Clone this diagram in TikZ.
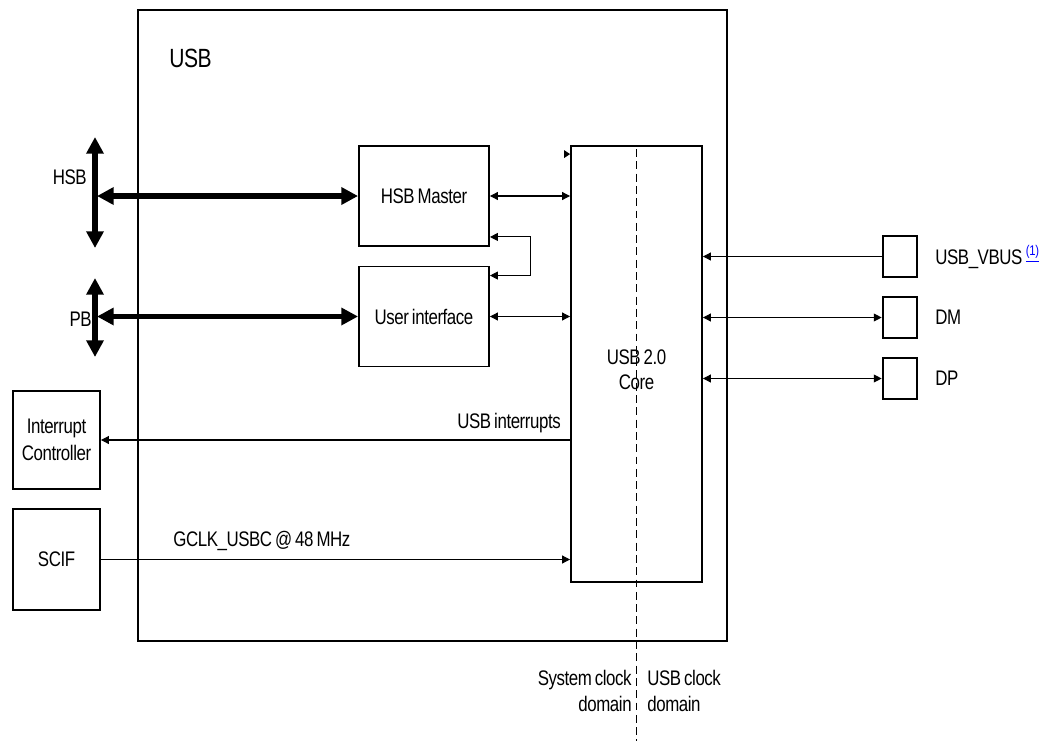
\documentclass[tikz,border=0pt]{standalone}
\usepackage{fontspec}
\setmainfont[FakeStretch=0.8,LetterSpace=-2,WordSpace=0.7]{Liberation Sans}
\usepackage{xcolor}
\usepackage{tikz}
\usetikzlibrary{arrows.meta,calc,positioning}

\begin{document}
\begin{tikzpicture}[x=0.02cm,y=-0.02cm,
  blk/.style={draw,line width=1.1pt,inner sep=0pt,align=center},
  pin/.style={draw,line width=1.5pt,inner sep=0pt,minimum width=0.68cm,minimum height=0.82cm},
  sig/.style={line width=0.6pt,-{Triangle[length=4.5pt,width=4.5pt]}},
  bsig/.style={line width=0.6pt,{Triangle[length=4.5pt,width=4.5pt]}-{Triangle[length=4.5pt,width=4.5pt]}},
  bus/.style={line width=3.4pt,{Triangle[length=9.5pt,width=9.5pt]}-{Triangle[length=9.5pt,width=9.5pt]}},
  lbl/.style={inner sep=0pt,align=center}]
\useasboundingbox (0,0) rectangle (1063,741);
\fontsize{12}{15}\selectfont

\node[blk,minimum width=11.78cm,minimum height=12.62cm] (usb) at (432.5,325.5) {};
\node[lbl,anchor=west,font=\fontsize{15}{18}\selectfont] (usbtitle) at (169,58) {USB};

\node[blk,minimum width=2.6cm,minimum height=2.0cm] (hsbm) at (424,196) {HSB Master};
\node[blk,minimum width=2.6cm,minimum height=2.0cm] (ui) at (424,316.5) {User interface};
\node[blk,minimum width=2.62cm,minimum height=8.72cm,
  text height=0pt] (core) at (636.5,364) {};
\node[lbl,baseline=0pt] (coretxt) at (636.5,370) {USB 2.0\\[-1pt]Core};

\node[blk,minimum width=1.74cm,minimum height=1.96cm] (intc) at (56.5,440) {Interrupt\\Controller};
\node[blk,minimum width=1.74cm,minimum height=2.02cm] (scif) at (56.5,559.5) {SCIF};

\node[pin] (vbus) at (900,256.5) {};
\node[pin] (dm) at (900,317.5) {};
\node[pin] (dp) at (900,378.5) {};
\node[lbl,anchor=west] (vbuslbl) at (935,257) {USB\_VBUS\,\textsuperscript{\color{blue}\underline{(1)}}};
\node[lbl,anchor=west] (dmlbl) at (935,317) {DM};
\node[lbl,anchor=west] (dplbl) at (935,378) {DP};

% system bus and peripheral bus
\coordinate (hsbtop) at (95,137);
\coordinate (hsbbot) at (95,248);
\coordinate (pbtop) at (95,278);
\coordinate (pbbot) at (95,357);
\draw[bus] (hsbtop) -- (hsbbot);
\draw[bus] (pbtop) -- (pbbot);
\draw[bus] ($(hsbtop |- hsbm.west)+(2,0)$) -- (hsbm.west);
\draw[bus] ($(pbtop |- ui.west)+(2,0)$) -- (ui.west);
\node[lbl,anchor=east] (hsblbl) at (87,177) {HSB};
\node[lbl,anchor=east] (pblbl) at (92,319) {PB};

\draw[bsig] (hsbm.east) -- (core.west |- hsbm.east);
\draw[bsig] (ui.east) -- (core.west |- ui.east);
\draw[bsig] ($(hsbm.south east)+(0,-10)$) -- ++(41,0) |- ($(ui.north east)+(0,10)$);
\fill ($(core.north west)+(-6,5)$) -- ++(6,4) -- ++(-6,4) -- cycle;

\draw[sig] (core.west |- intc.east) -- (intc.east)
  node[lbl,pos=0,above left=4pt and 5pt] (irqlbl) {USB interrupts};
\draw[sig] (scif.east) -- (core.west |- scif.east);
\node[lbl,anchor=south west] (gclklbl) at (173,551) {GCLK\_USBC @ 48 MHz};

\draw[sig] (vbus.west) -- (core.east |- vbus.west);
\draw[bsig] (dm.west) -- (core.east |- dm.west);
\draw[bsig] (dp.west) -- (core.east |- dp.west);

% clock domains
\draw[line width=0.6pt,dash pattern=on 4.5pt off 2.5pt] ($(core.north)+(0,4)$) -- (636.5,741);
\node[lbl,anchor=north east,align=right] (syslbl) at (632,670) {System clock\\domain};
\node[lbl,anchor=north west,align=left] (usblbl) at (647,670) {USB clock\\domain};
\end{tikzpicture}
\end{document}
